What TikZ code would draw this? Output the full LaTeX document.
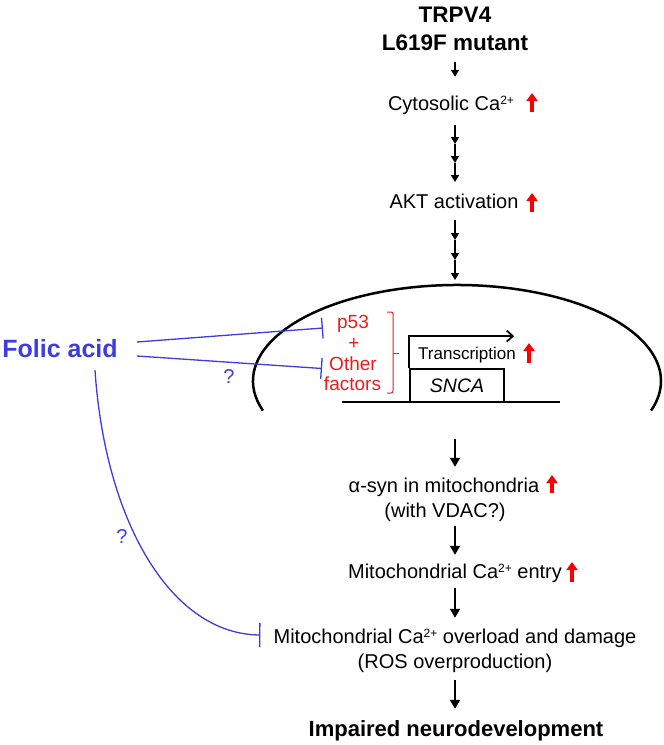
\documentclass[tikz,border=0pt]{standalone}
\usepackage{fontspec}
\setmainfont{Liberation Sans}
\usetikzlibrary{arrows.meta}
\newcommand{\fs}[1]{\fontsize{#1}{#1}\selectfont}
\newcommand{\ion}[1]{\raisebox{6pt}{\fs{12}#1}}
\definecolor{folic}{RGB}{60,60,225}
\definecolor{upred}{RGB}{250,0,0}
\definecolor{factred}{RGB}{230,30,30}

\begin{document}
\begin{tikzpicture}[x=1pt, y=-1pt, every node/.style={inner sep=0pt},
  txt/.style={text height=15pt, text depth=5pt, anchor=base, font=\fs{20}},
  ttl/.style={txt, text height=17pt, font=\fs{22.5}\bfseries},
  redtxt/.style={txt, text height=14pt, text=factred, font=\fs{19}},
  arr/.style={line width=1.6pt, -{Triangle[length=7pt,width=8pt]}},
  bigarr/.style={line width=1.6pt, -{Triangle[length=9pt,width=10pt]}},
  rise/.style={upred, line width=4pt, -{Triangle[length=8pt,width=11pt]}},
  inhib/.style={folic, line width=1.3pt, -{Bar[width=21pt]}}]
\useasboundingbox (0,0) rectangle (664,745);

% pathway
\node[ttl] (trpv) at (455,22) {TRPV4};
\node[ttl] (mutant) at (455,50) {L619F mutant};
\node[txt] (cyto) at (451,110) {Cytosolic Ca\ion{2+}};
\node[txt] (akt) at (454,208) {AKT activation};
\node[txt] (asyn) at (444,492) {α-syn in mitochondria};
\node[txt] (vdac) at (445,517) {(with VDAC?)};
\node[txt] (entry) at (455,578) {Mitochondrial Ca\ion{2+} entry};
\node[txt] (overload) at (455,643) {Mitochondrial Ca\ion{2+} overload and damage};
\node[txt] (ros) at (455,668) {(ROS overproduction)};
\node[ttl, font=\fs{22}\bfseries] (impaired) at (456,736) {Impaired neurodevelopment};

% nucleus
\draw[line width=2.5pt] (457,381) ++(162:204 and 96) arc[start angle=162, end angle=378, x radius=204, y radius=96];
\draw[line width=2pt] (342,402) -- (560,402);
\node[draw, line width=1.8pt, minimum width=94pt, minimum height=33pt, font=\fs{19.5}\itshape] (snca) at (457,385.5) {SNCA};
\draw[line width=1.8pt, -{Straight Barb[length=6pt,width=11pt]}] (snca.north west) -- ++(0,-32) -- ++(105,0);
\node[txt, text height=13pt, text depth=4pt, font=\fs{17}] (trans) at (467,359) {Transcription};

\node[redtxt] (p53) at (353,328) {p53};
\node[redtxt] (plus) at (354,349) {+};
\node[redtxt] (other) at (353,370) {Other};
\node[redtxt] (factors) at (352.5,390) {factors};
\draw[factred, line width=1pt, rounded corners=2pt] (387,312) -- (393,312) -- (393,393) -- (387,393);
\draw[factred, line width=1pt] (393,353) -- (399,353);

% arrows
\draw[arr, shorten <=7pt, shorten >=18pt] (mutant.south) -- (mutant.south |- cyto.north);
\foreach \n/\y in {u0/125,u1/144,u2/163,u3/182,v0/220,v1/240,v2/260,v3/280}
  \coordinate (\n) at (455,\y);
\foreach \a/\b in {u0/u1,u1/u2,u2/u3,v0/v1,v1/v2,v2/v3}
  \draw[arr] (\a) -- (\b);
\draw[bigarr, shorten <=36pt, shorten >=10pt] (entry.north |- snca.south) -- (entry.north |- asyn.north);
\draw[bigarr, shorten <=4pt, shorten >=8pt] (entry.north |- vdac.south) -- (entry.north);
\draw[bigarr, shorten <=5pt, shorten >=10pt] (entry.south) -- (entry.south |- overload.north);
\draw[bigarr, shorten <=7pt, shorten >=10pt] (ros.south) -- (ros.south |- impaired.north);

% increases
\draw[rise] (532,112) -- (532,93);
\draw[rise] (532,212) -- (532,193);
\draw[rise] (529,363) -- (529,343);
\draw[rise] (552,493) -- (552,475);
\draw[rise] (572,582) -- (572,562);

% folic acid
\node[txt, text height=19pt, font=\fs{25}\bfseries, text=folic] (folic) at (60,357) {Folic acid};
\draw[inhib] ([xshift=19pt,yshift=8pt]folic.east) -- ([xshift=-14pt]p53.base west);
\draw[inhib] ([xshift=19pt,yshift=-6pt]folic.east) -- ([xshift=-7pt,yshift=1.5pt]other.base west);
\draw[inhib, -{Bar[width=24pt]}] ([xshift=35pt,yshift=-8pt]folic.south) .. controls (105,520) and (170,634) .. ([xshift=-13pt,yshift=3pt]overload.west);
\node[font=\fs{20}, text=folic] (q1) at (229,377) {?};
\node[font=\fs{20}, text=folic] (q2) at (122,537) {?};
\end{tikzpicture}
\end{document}
